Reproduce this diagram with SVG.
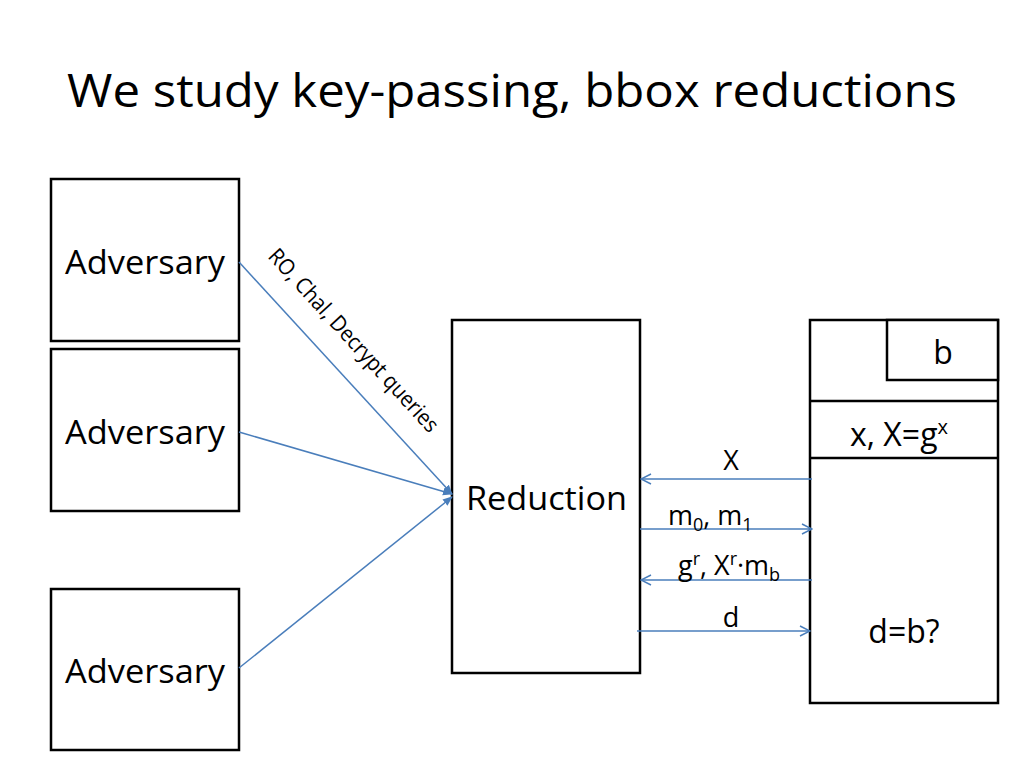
<svg xmlns="http://www.w3.org/2000/svg" width="1024" height="768" viewBox="0 0 1024 768">
<style>
text{font-family:"Open Sans","Liberation Sans",sans-serif;fill:#000}
.box{fill:#fff;stroke:#000;stroke-width:2.5}
.lbl{font-size:32px}
.sm{font-size:27px}
.c{stroke:#4a7ebb;stroke-width:1.5;fill:none}
</style>
<defs>
<marker id="fill" markerWidth="10" markerHeight="10" refX="9" refY="5" orient="auto" markerUnits="userSpaceOnUse">
<path d="M0,1 L10,5 L0,9 Z" fill="#4a7ebb"/>
</marker>
<marker id="open" markerWidth="12" markerHeight="12" refX="11" refY="6" orient="auto" markerUnits="userSpaceOnUse">
<path d="M1,1 L11,6 L1,11" fill="none" stroke="#4a7ebb" stroke-width="1.5"/>
</marker>
</defs>
<rect width="1024" height="768" fill="#fff"/>
<text x="67" y="107" font-size="46" textLength="890" lengthAdjust="spacingAndGlyphs">We study key-passing, bbox reductions</text>
<g id="adv1"><rect class="box" x="51" y="179" width="188" height="162"/><text class="lbl" x="65" y="274" textLength="160" lengthAdjust="spacingAndGlyphs">Adversary</text></g>
<g id="adv2"><rect class="box" x="51" y="349" width="188" height="162"/><text class="lbl" x="65" y="444" textLength="160" lengthAdjust="spacingAndGlyphs">Adversary</text></g>
<g id="adv3"><rect class="box" x="51" y="589" width="188" height="161"/><text class="lbl" x="65" y="683" textLength="160" lengthAdjust="spacingAndGlyphs">Adversary</text></g>
<g id="reduction"><rect class="box" x="452" y="320" width="188" height="353"/><text class="lbl" x="466" y="510" textLength="161" lengthAdjust="spacingAndGlyphs">Reduction</text></g>
<g id="challenger">
<rect class="box" x="810" y="320" width="188" height="383"/>
<rect class="box" x="887" y="320" width="111" height="60"/>
<line x1="810" y1="401" x2="998" y2="401" stroke="#000" stroke-width="2.5"/>
<line x1="810" y1="458" x2="998" y2="458" stroke="#000" stroke-width="2.5"/>
<text class="lbl" x="943" y="364" text-anchor="middle">b</text>
<text class="lbl" x="850" y="446">x, X=g<tspan font-size="20" dy="-12">x</tspan></text>
<text class="lbl" x="904" y="643" text-anchor="middle">d=b?</text>
</g>
<g id="connectors">
<line class="c" x1="239" y1="262" x2="452" y2="494" marker-end="url(#fill)"/>
<line class="c" x1="239" y1="432" x2="452" y2="494" marker-end="url(#fill)"/>
<line class="c" x1="239" y1="668" x2="452" y2="497" marker-end="url(#fill)"/>
<text transform="translate(267,257) rotate(47.5)" style="font-size:22px" textLength="240" lengthAdjust="spacingAndGlyphs">RO, Chal, Decrypt queries</text>
<line class="c" x1="812" y1="479" x2="641" y2="479" marker-end="url(#open)"/>
<line class="c" x1="640" y1="529" x2="812" y2="529" marker-end="url(#open)"/>
<line class="c" x1="812" y1="580" x2="641" y2="580" marker-end="url(#open)"/>
<line class="c" x1="637" y1="631" x2="810" y2="631" marker-end="url(#open)"/>
<text class="sm" x="731" y="470" text-anchor="middle">X</text>
<text class="sm" x="668" y="525">m<tspan font-size="18" dy="6">0</tspan><tspan dy="-6">, m</tspan><tspan font-size="18" dy="6">1</tspan></text>
<text class="sm" x="678" y="575">g<tspan font-size="18" dy="-10">r</tspan><tspan dy="10">, X</tspan><tspan font-size="18" dy="-10">r</tspan><tspan dy="10">·m</tspan><tspan font-size="18" dy="6">b</tspan></text>
<text class="sm" x="731" y="627" text-anchor="middle">d</text>
</g>
</svg>
